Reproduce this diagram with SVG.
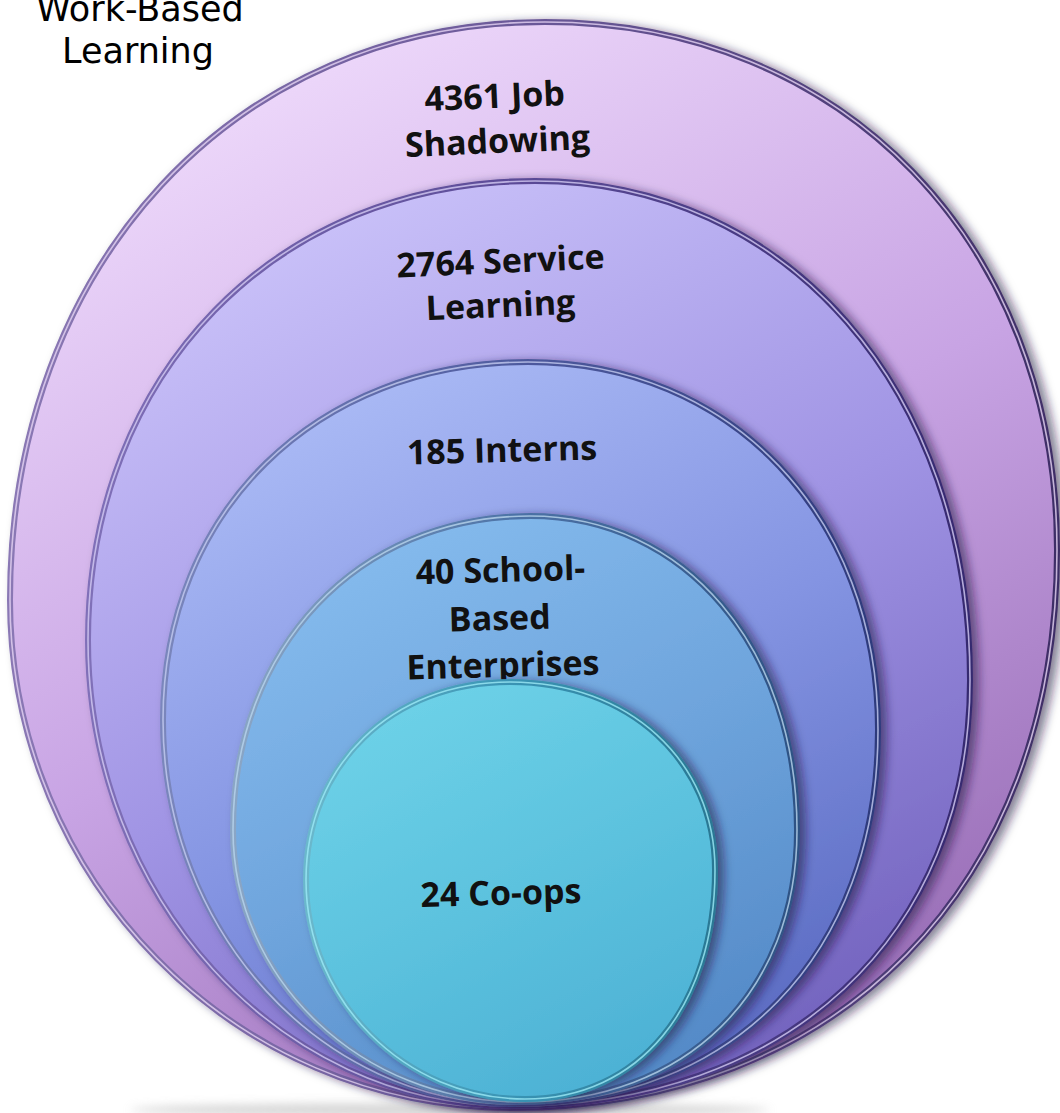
<svg xmlns="http://www.w3.org/2000/svg" width="1060" height="1113" viewBox="0 0 1060 1113">
<style>
.lbl{font-family:"Open Sans","Liberation Sans",sans-serif;font-weight:700;font-size:34px;fill:#111;text-anchor:middle}
.title{font-family:"DejaVu Sans","Liberation Sans",sans-serif;font-size:35px;fill:#000;text-anchor:middle}
.hl{fill:none;stroke-width:1.6;stroke-opacity:0.8}
.ring{stroke-width:6}
</style>
<defs>
<linearGradient id="g1" x1="0.25" y1="0" x2="0.75" y2="1"><stop offset="0" stop-color="#f0dcfc"/><stop offset="0.5" stop-color="#c8a4e4"/><stop offset="1" stop-color="#9468b2"/></linearGradient>
<linearGradient id="g2" x1="0.25" y1="0" x2="0.75" y2="1"><stop offset="0" stop-color="#ccc4fa"/><stop offset="0.5" stop-color="#a094e4"/><stop offset="1" stop-color="#7060bc"/></linearGradient>
<linearGradient id="g3" x1="0.25" y1="0" x2="0.75" y2="1"><stop offset="0" stop-color="#acbcf6"/><stop offset="0.5" stop-color="#8494e2"/><stop offset="1" stop-color="#5868c0"/></linearGradient>
<linearGradient id="g4" x1="0.25" y1="0" x2="0.75" y2="1"><stop offset="0" stop-color="#86bcee"/><stop offset="0.5" stop-color="#6ea4dc"/><stop offset="1" stop-color="#5288c6"/></linearGradient>
<linearGradient id="g5" x1="0.25" y1="0" x2="0.75" y2="1"><stop offset="0" stop-color="#6ed2e8"/><stop offset="0.5" stop-color="#5cc2de"/><stop offset="1" stop-color="#4cb0d4"/></linearGradient>
<linearGradient id="s1" x1="0" y1="0" x2="1" y2="0"><stop offset="0" stop-color="#8a78b4"/><stop offset="0.5" stop-color="#6a5898"/><stop offset="1" stop-color="#3e2e66"/></linearGradient>
<linearGradient id="s2" x1="0" y1="0" x2="1" y2="0"><stop offset="0" stop-color="#8070b8"/><stop offset="0.5" stop-color="#5a4a96"/><stop offset="1" stop-color="#362a70"/></linearGradient>
<linearGradient id="s3" x1="0" y1="0" x2="1" y2="0"><stop offset="0" stop-color="#7a86bc"/><stop offset="0.5" stop-color="#4e5a9e"/><stop offset="1" stop-color="#2e3a7c"/></linearGradient>
<linearGradient id="s4" x1="0" y1="0" x2="1" y2="0"><stop offset="0" stop-color="#8aa6c6"/><stop offset="0.5" stop-color="#4c72a6"/><stop offset="1" stop-color="#2e5284"/></linearGradient>
<linearGradient id="s5" x1="0" y1="0" x2="1" y2="0"><stop offset="0" stop-color="#6ab8cc"/><stop offset="0.5" stop-color="#3a94b4"/><stop offset="1" stop-color="#2a7894"/></linearGradient>
<filter id="sh" x="-10%" y="-10%" width="125%" height="125%"><feDropShadow dx="6" dy="2" stdDeviation="5" flood-color="#1a1040" flood-opacity="0.55"/></filter>
<filter id="blur" x="-20%" y="-200%" width="140%" height="500%"><feGaussianBlur stdDeviation="5"/></filter>
</defs>
<ellipse cx="450" cy="1110" rx="320" ry="7" fill="#bbbbbb" opacity="0.6" filter="url(#blur)"/>
<text class="title" x="140" y="21">Work-Based</text>
<text class="title" x="138" y="63">Learning</text>
<g id="connectors"/>
<g id="node-job-shadowing">
<path class="ring" d="M545,22 C842,22 1057,244 1057,550 C1057,885 838,1108 510,1108 C235,1108 10,879 10,600 C10,265 235,22 545,22 Z" fill="url(#g1)" stroke="url(#s1)" filter="url(#sh)"/>
<path class="hl" d="M545,22 C842,22 1057,244 1057,550 C1057,885 838,1108 510,1108 C235,1108 10,879 10,600 C10,265 235,22 545,22 Z" stroke="#e6d4f4"/>
<text class="lbl" transform="rotate(-2.5 496 130)"><tspan x="496" y="108">4361 Job</tspan><tspan x="497" y="153">Shadowing</tspan></text>
</g>
<g id="node-service-learning">
<path class="ring" d="M535,181 C787,181 970,391 970,680 C970,936 787,1106 512,1106 C279,1106 88,896 88,640 C88,374 276,181 535,181 Z" fill="url(#g2)" stroke="url(#s2)" filter="url(#sh)"/>
<path class="hl" d="M535,181 C787,181 970,391 970,680 C970,936 787,1106 512,1106 C279,1106 88,896 88,640 C88,374 276,181 535,181 Z" stroke="#d4ccf4"/>
<text class="lbl" transform="rotate(-2.5 500 295)"><tspan x="502" y="273">2764 Service</tspan><tspan x="500" y="317">Learning</tspan></text>
</g>
<g id="node-interns">
<path class="ring" d="M528,362 C731,362 878,517 878,730 C878,954 733,1104 515,1104 C321,1104 163,931 163,720 C163,512 316,362 528,362 Z" fill="url(#g3)" stroke="url(#s3)" filter="url(#sh)"/>
<path class="hl" d="M528,362 C731,362 878,517 878,730 C878,954 733,1104 515,1104 C321,1104 163,931 163,720 C163,512 316,362 528,362 Z" stroke="#c4ccf0"/>
<text class="lbl" transform="rotate(-1.5 502 452)" x="502" y="462">185 Interns</text>
</g>
<g id="node-school-based">
<path class="ring" d="M530,516 C685,516 797,648 797,830 C797,993 686,1102 520,1102 C362,1102 233,980 233,830 C233,648 358,516 530,516 Z" fill="url(#g4)" stroke="url(#s4)" filter="url(#sh)"/>
<path class="hl" d="M530,516 C685,516 797,648 797,830 C797,993 686,1102 520,1102 C362,1102 233,980 233,830 C233,648 358,516 530,516 Z" stroke="#b8d4ec"/>
<text class="lbl" transform="rotate(-1.5 502 630)"><tspan x="502" y="582">40 School-</tspan><tspan x="500" y="630">Based</tspan><tspan x="502" y="677">Enterprises</tspan></text>
</g>
<g id="node-coops">
<path class="ring" d="M510,682 C629,682 715,761 715,870 C715,1007 639,1099 525,1099 C405,1099 306,1000 306,880 C306,765 392,682 510,682 Z" fill="url(#g5)" stroke="url(#s5)" filter="url(#sh)"/>
<path class="hl" d="M510,682 C629,682 715,761 715,870 C715,1007 639,1099 525,1099 C405,1099 306,1000 306,880 C306,765 392,682 510,682 Z" stroke="#9ceaf6"/>
<text class="lbl" transform="rotate(-1.5 501 895)" x="501" y="905">24 Co-ops</text>
</g>
</svg>
